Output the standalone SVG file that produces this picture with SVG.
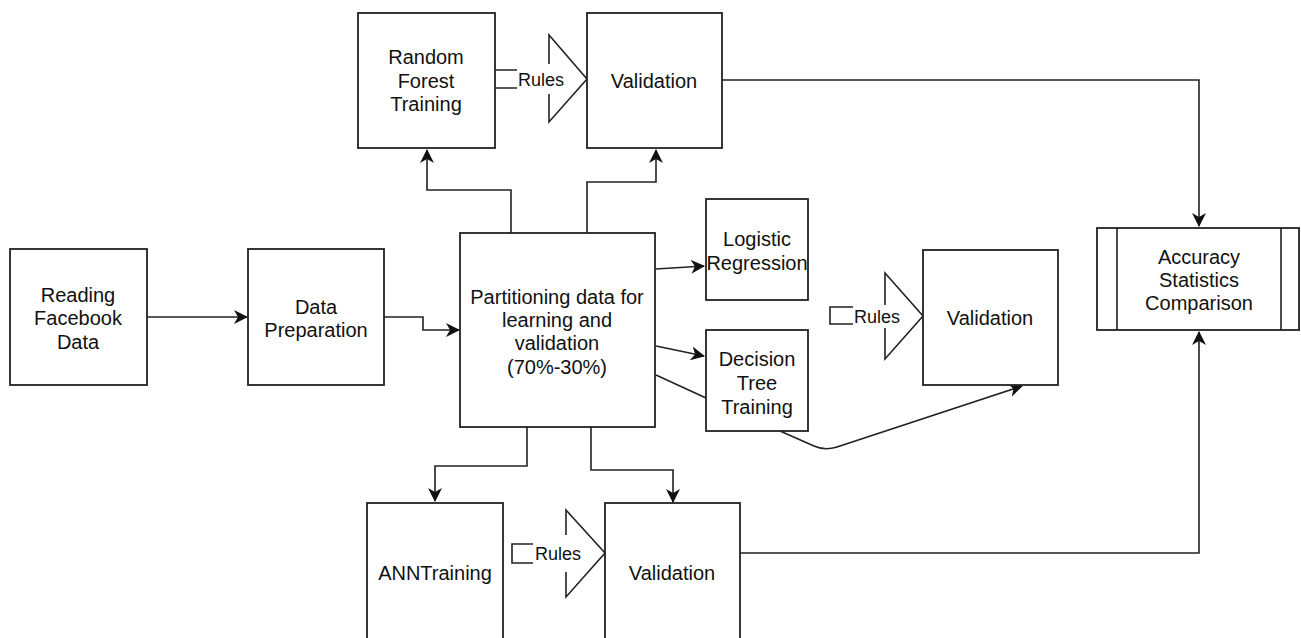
<svg xmlns="http://www.w3.org/2000/svg" width="1301" height="638" viewBox="0 0 1301 638">
  <style>
    .box { fill: #ffffff; stroke: #222222; stroke-width: 1.8; }
    .edge { fill: none; stroke: #222222; stroke-width: 1.6; }
    .arrow { marker-end: url(#head); }
    .shape { fill: none; stroke: #222222; stroke-width: 1.6; }
    .label { font-family: "Liberation Sans", Arial, sans-serif; font-size: 20px; fill: #111111; text-anchor: middle; }
    .small { font-size: 18px; }
    .bg { fill: #ffffff; stroke: none; }
  </style>
  <defs>
    <marker id="head" markerUnits="userSpaceOnUse" markerWidth="16" markerHeight="14" refX="13" refY="7" orient="auto">
      <path d="M0,0 L14,7 L0,14 L4,7 z" fill="#111111"/>
    </marker>
  </defs>

  <rect width="1301" height="638" fill="#ffffff"/>

  <!-- connectors -->
  <g id="connectors">
    <path class="edge arrow" d="M147,317 L247,317"/>
    <path class="edge arrow" d="M384,317 L423,317 L423,330 L459,330"/>
    <path class="edge arrow" d="M511,233 L511,190 L427,190 L427,150"/>
    <path class="edge arrow" d="M587,233 L587,182 L656,182 L656,150"/>
    <path class="edge arrow" d="M722,80 L1199,80 L1199,226"/>
    <path class="edge arrow" d="M656,269 L704,266"/>
    <path class="edge arrow" d="M656,346 L704,356"/>
    <path class="edge" d="M656,375 L706,398"/>
    <path class="edge arrow" d="M780,431 L814,446 Q825,451 837,447 L1022,386"/>
    <path class="edge arrow" d="M527,427 L527,466 L435,466 L435,501"/>
    <path class="edge arrow" d="M591,427 L591,470 L673,470 L673,502"/>
    <path class="edge arrow" d="M740,553 L1199,553 L1199,332"/>
  </g>

  <!-- nodes -->
  <g id="reading">
    <rect class="box" x="10" y="249" width="137" height="136"/>
    <text class="label" x="78" y="302">Reading</text>
    <text class="label" x="78" y="325">Facebook</text>
    <text class="label" x="78" y="349">Data</text>
  </g>

  <g id="preparation">
    <rect class="box" x="248" y="249" width="136" height="136"/>
    <text class="label" x="316" y="314">Data</text>
    <text class="label" x="316" y="337">Preparation</text>
  </g>

  <g id="partition">
    <rect class="box" x="460" y="233" width="195" height="194"/>
    <text class="label" x="557" y="304">Partitioning data for</text>
    <text class="label" x="557" y="327">learning and</text>
    <text class="label" x="557" y="350">validation</text>
    <text class="label" x="557" y="374">(70%-30%)</text>
  </g>

  <g id="rf-training">
    <rect class="box" x="358" y="13" width="137" height="135"/>
    <text class="label" x="426" y="64">Random</text>
    <text class="label" x="426" y="88">Forest</text>
    <text class="label" x="426" y="111">Training</text>
  </g>

  <g id="rf-rules">
    <polygon class="shape" points="549,35 587,79 549,122" fill="#ffffff"/>
    <rect class="bg" x="516" y="64" width="50" height="30"/>
    <path class="shape" d="M495,70 L517,70 M495,88 L517,88"/>
    <text class="label small" x="541" y="86">Rules</text>
  </g>

  <g id="rf-validation">
    <rect class="box" x="587" y="13" width="135" height="135"/>
    <text class="label" x="654" y="88">Validation</text>
  </g>

  <g id="logistic">
    <rect class="box" x="706" y="199" width="102" height="101"/>
    <text class="label" x="757" y="246">Logistic</text>
    <text class="label" x="757" y="270">Regression</text>
  </g>

  <g id="decision-tree">
    <rect class="box" x="706" y="330" width="102" height="101"/>
    <text class="label" x="757" y="366">Decision</text>
    <text class="label" x="757" y="390">Tree</text>
    <text class="label" x="757" y="414">Training</text>
  </g>

  <g id="dt-rules">
    <path class="shape" d="M853,307 L830,307 L830,324 L853,324"/>
    <polygon class="shape" points="885,273 923,316 885,359"/>
    <rect class="bg" x="853" y="305" width="49" height="23"/>
    <text class="label small" x="877" y="323">Rules</text>
  </g>

  <g id="dt-validation">
    <rect class="box" x="923" y="250" width="135" height="135"/>
    <text class="label" x="990" y="325">Validation</text>
  </g>

  <g id="accuracy">
    <rect class="box" x="1097" y="228" width="202" height="102"/>
    <path class="shape" d="M1117,228 L1117,330 M1281,228 L1281,330"/>
    <text class="label" x="1199" y="264">Accuracy</text>
    <text class="label" x="1199" y="287">Statistics</text>
    <text class="label" x="1199" y="310">Comparison</text>
  </g>

  <g id="ann-training">
    <rect class="box" x="367" y="503" width="136" height="140"/>
    <text class="label" x="435" y="580">ANNTraining</text>
  </g>

  <g id="ann-rules">
    <path class="shape" d="M533,544 L512,544 L512,563 L533,563"/>
    <polygon class="shape" points="566,510 605,553 566,597"/>
    <rect class="bg" x="533" y="535" width="50" height="37"/>
    <text class="label small" x="558" y="560">Rules</text>
  </g>

  <g id="ann-validation">
    <rect class="box" x="605" y="503" width="135" height="140"/>
    <text class="label" x="672" y="580">Validation</text>
  </g>
</svg>
